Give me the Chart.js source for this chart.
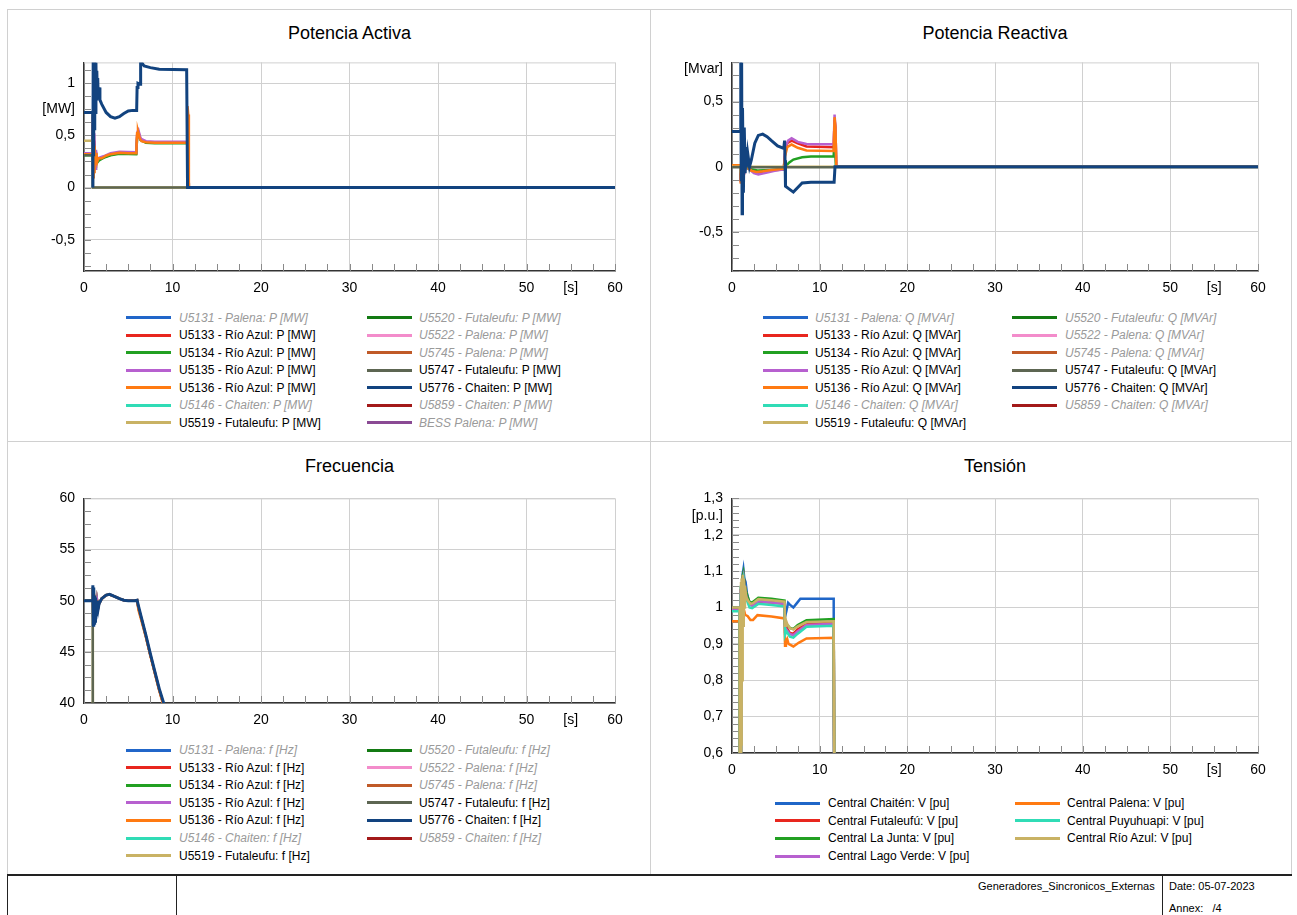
<!DOCTYPE html>
<html><head><meta charset="utf-8">
<script src="https://cdn.jsdelivr.net/npm/chart.js@4/dist/chart.umd.min.js"></script>
<style>
body{margin:0;background:#fff;width:1297px;height:915px;overflow:hidden;position:relative;font-family:Arial,"Liberation Sans",sans-serif;}
.ln{position:absolute;}
.title{position:absolute;font-size:18px;line-height:20px;color:#000;transform:translateX(-50%);white-space:nowrap;}
.lt{position:absolute;font-size:12px;line-height:14px;white-space:nowrap;color:#000;}
.lt.off{color:#9a9a9a;font-style:italic;}
.sw{position:absolute;height:3px;width:45px;}
.ft{position:absolute;font-size:11px;line-height:14px;white-space:nowrap;color:#000;}
canvas{position:absolute;}
</style>
</head><body>
<script>
// ---------- axis tick labels ----------
const xMajor = [0, 10, 20, 30, 40, 50, 60];
const xUnitLabel = '[s]';
const xUnitAt = 55;
const P_yMajor = [-0.5, 0, 0.5, 1];
const Q_yMajor = [-0.5, 0, 0.5];
const F_yMajor = [40, 45, 50, 55, 60];
const V_yMajor = [0.6, 0.7, 0.8, 0.9, 1, 1.1, 1.2, 1.3];

// ---------- Potencia Activa [MW]  ([t, value]) ----------
const P_U5131 = [];
const P_U5133 = [[0,0.32],[0.98,0.32],[1.0,0.6],[1.08,0.15],[1.16,0.45],[1.25,0.2],[1.35,0.34],[1.5,0.25],[1.7,0.27],[2.2,0.29],[3.0,0.315],[4.0,0.33],[5.9,0.325],[6.02,0.52],[6.15,0.53],[6.4,0.46],[7.0,0.435],[8.0,0.43],[11.65,0.43],[11.72,0.72],[11.85,0],[60,0]];
const P_U5134 = [[0,0.31],[0.98,0.31],[1.0,0.55],[1.08,0.12],[1.16,0.42],[1.25,0.18],[1.35,0.32],[1.5,0.24],[1.7,0.26],[2.2,0.285],[3.0,0.31],[4.0,0.325],[5.9,0.32],[6.02,0.5],[6.15,0.52],[6.4,0.455],[7.0,0.43],[8.0,0.425],[11.65,0.425],[11.72,0.7],[11.85,0],[60,0]];
const P_U5135 = [[0,0.33],[0.98,0.33],[1.0,0.68],[1.08,0.12],[1.16,0.52],[1.25,0.18],[1.35,0.36],[1.5,0.26],[1.7,0.285],[2.2,0.3],[3.0,0.33],[4.0,0.343],[5.9,0.338],[6.02,0.53],[6.15,0.55],[6.4,0.47],[7.0,0.445],[8.0,0.44],[11.65,0.44],[11.72,0.76],[11.85,0],[60,0]];
const P_U5136 = [[0,0.32],[0.98,0.32],[1.0,0.7],[1.05,0.1],[1.1,0.55],[1.15,0.15],[1.2,0.4],[1.3,0.22],[1.4,0.33],[1.5,0.25],[1.6,0.28],[2.0,0.28],[2.5,0.305],[3.0,0.32],[4.0,0.333],[5.0,0.33],[5.9,0.33],[6.0,0.52],[6.1,0.54],[6.3,0.47],[6.5,0.445],[7.0,0.435],[8.0,0.43],[11.65,0.43],[11.7,0.78],[11.78,0.7],[11.85,0],[60,0]];
const P_U5146 = [];
const P_U5519 = [[0,0.45],[0.98,0.45],[1.0,0],[60,0]];
const P_U5520 = [];
const P_U5522 = [];
const P_U5745 = [];
const P_U5747 = [[0,0.31],[0.98,0.31],[1.0,0],[60,0]];
const P_U5776 = [[0,0.72],[0.98,0.72],[1.0,0.0],[1.04,1.3],[1.09,0.3],[1.14,1.3],[1.19,0.55],[1.24,1.25],[1.3,0.72],[1.35,1.2],[1.4,0.85],[1.45,1.12],[1.5,0.9],[1.55,1.05],[1.6,0.88],[1.7,0.96],[1.8,0.84],[2.0,0.8],[2.5,0.72],[3.0,0.68],[3.5,0.665],[4.0,0.68],[4.5,0.71],[5.0,0.735],[5.5,0.74],[5.95,0.74],[6.0,0.96],[6.1,1.0],[6.35,0.99],[6.4,1.22],[6.5,1.2],[6.8,1.165],[7.5,1.15],[8.5,1.135],[11.6,1.13],[11.7,0.0],[60,0]];
const P_U5859 = [];
const P_BESS = [];

// ---------- Potencia Reactiva [Mvar] ----------
const Q_U5131 = [];
const Q_U5133 = [[0,0.01],[0.95,0.01],[1.0,-0.12],[1.08,0.08],[1.16,-0.12],[1.25,0.04],[1.35,-0.06],[1.5,0.0],[1.8,-0.01],[2.2,-0.03],[2.8,-0.05],[3.5,-0.045],[4.5,-0.03],[5.9,-0.02],[6.05,0.1],[6.3,0.18],[6.8,0.2],[7.5,0.18],[8.5,0.155],[11.6,0.15],[11.7,0.36],[11.8,0.3],[11.9,0],[60,0]];
const Q_U5134 = [[0,0.005],[0.95,0.005],[1.0,-0.09],[1.1,0.05],[1.2,-0.08],[1.35,0.0],[1.6,-0.01],[2.2,-0.02],[3.0,-0.03],[4.5,-0.025],[5.9,-0.02],[6.1,0.0],[6.5,0.03],[7.0,0.055],[8.0,0.072],[9.0,0.078],[11.6,0.08],[11.7,0.25],[11.85,0],[60,0]];
const Q_U5135 = [[0,0.01],[0.95,0.01],[1.0,-0.1],[1.1,0.1],[1.2,-0.15],[1.3,0.05],[1.4,-0.05],[1.6,0.0],[2.0,-0.02],[2.5,-0.05],[3.0,-0.06],[4.0,-0.045],[5.0,-0.03],[5.9,-0.02],[6.1,0.15],[6.4,0.2],[6.8,0.218],[7.5,0.19],[8.5,0.175],[11.6,0.172],[11.7,0.4],[11.8,0.3],[11.9,0],[60,0]];
const Q_U5136 = [[0,0.012],[0.95,0.012],[1.0,-0.13],[1.08,0.1],[1.16,-0.1],[1.25,0.06],[1.35,-0.05],[1.5,0.02],[1.8,-0.01],[2.2,-0.03],[2.8,-0.04],[3.5,-0.035],[4.5,-0.025],[5.9,-0.015],[6.05,0.08],[6.3,0.15],[6.8,0.17],[7.5,0.145],[8.5,0.125],[11.6,0.12],[11.7,0.38],[11.8,0.3],[11.9,0],[60,0]];
const Q_U5146 = [];
const Q_U5519 = [[0,0],[0.95,0],[1.0,-0.05],[1.05,0],[60,0]];
const Q_U5520 = [];
const Q_U5522 = [];
const Q_U5745 = [];
const Q_U5747 = [[0,-0.005],[60,-0.005]];
const Q_U5776 = [[0,0.27],[0.95,0.27],[1.0,0.9],[1.05,-0.1],[1.1,0.8],[1.15,-0.36],[1.2,0.45],[1.3,-0.2],[1.4,0.3],[1.5,-0.05],[1.6,0.15],[1.7,0.0],[1.8,0.1],[2.0,0.0],[2.2,0.05],[2.6,0.18],[3.0,0.24],[3.5,0.25],[4.0,0.23],[4.5,0.2],[5.2,0.16],[5.9,0.14],[6.0,0.2],[6.05,0.05],[6.1,-0.15],[6.5,-0.17],[7.0,-0.195],[7.5,-0.16],[8.0,-0.125],[9.0,-0.12],[11.65,-0.12],[11.75,0],[60,0]];
const Q_U5859 = [];

// ---------- Frecuencia [Hz] ----------
const F_U5131 = [];
const F_RioAzul = [[0,50],[0.98,50],[1.0,51.3],[1.05,47.8],[1.1,51.1],[1.15,48.0],[1.2,50.4],[1.25,48.2],[1.3,50.2],[1.4,48.6],[1.5,49.9],[1.6,49.3],[1.7,49.7],[2.0,50.2],[2.5,50.55],[2.9,50.6],[3.5,50.4],[4.0,50.2],[4.5,50.05],[5.0,50.0],[5.7,50.0],[6.0,50.05],[6.15,49.3],[6.5,48.2],[7.0,46.5],[7.5,44.7],[8.0,43.0],[8.5,41.3],[9.0,39.8],[9.5,38.3],[10,37]];
const F_U5136 = [[0,50],[0.98,50],[1.0,51.2],[1.05,47.9],[1.1,51.0],[1.15,48.1],[1.2,50.4],[1.3,50.1],[1.4,48.7],[1.5,49.9],[1.7,49.7],[2.0,50.2],[2.5,50.55],[2.9,50.6],[3.5,50.4],[4.0,50.2],[4.5,50.05],[5.0,50.0],[5.7,50.0],[6.0,50.05],[6.15,49.1],[6.5,48.0],[7.0,46.4],[7.5,44.6],[8.0,42.9],[8.5,41.2],[9.0,39.7],[9.5,38.2],[10,36.9]];
const F_U5146 = [];
const F_U5519 = [[0,50],[0.98,50],[1.0,51.2],[1.02,0],[60,0]];
const F_U5520 = [];
const F_U5522 = [];
const F_U5745 = [];
const F_U5747 = [[0,50],[0.99,50],[1.02,0],[60,0]];
const F_U5776 = [[0,50],[0.98,50],[1.0,51.5],[1.05,47.6],[1.1,51.3],[1.15,47.8],[1.2,50.5],[1.25,48.0],[1.3,50.3],[1.4,48.5],[1.5,50.0],[1.6,49.2],[1.7,49.7],[2.0,50.2],[2.5,50.55],[2.9,50.62],[3.5,50.4],[4.0,50.2],[4.5,50.05],[5.0,50.0],[5.7,50.0],[6.0,50.05],[6.15,49.5],[6.5,48.3],[7.0,46.6],[7.5,44.8],[8.0,43.1],[8.5,41.4],[9.0,40.0],[9.5,38.5],[10,37]];
const F_U5859 = [];

// ---------- Tensión [p.u.] ----------
const V_Chaiten = [[0,1.0],[0.88,1.0],[0.9,0.3],[1.0,0.3],[1.02,1.06],[1.1,1.0],[1.2,1.09],[1.3,1.105],[1.4,1.08],[1.55,1.07],[1.7,1.04],[1.9,1.02],[2.2,1.008],[2.6,1.016],[3.0,1.022],[4.5,1.018],[6.0,1.015],[6.05,0.975],[6.2,0.99],[6.4,1.013],[6.6,1.008],[7.0,1.0],[7.4,1.012],[7.8,1.024],[11.6,1.024],[11.65,0.3],[60,0.3]];
const V_Futaleufu = [[0,0.997],[0.88,0.997],[0.9,0.3],[1.0,0.3],[1.02,1.05],[1.1,0.97],[1.2,1.08],[1.3,1.09],[1.45,1.06],[1.7,1.03],[2.0,1.01],[2.3,1.006],[3.0,1.016],[4.5,1.014],[6.0,1.01],[6.05,0.94],[6.2,0.945],[6.6,0.93],[7.0,0.928],[7.5,0.94],[8.5,0.955],[11.6,0.958],[11.7,0.3],[60,0.3]];
const V_LaJunta = [[0,0.999],[0.88,0.999],[0.9,0.3],[1.0,0.3],[1.02,1.06],[1.1,0.98],[1.2,1.085],[1.3,1.095],[1.45,1.06],[1.7,1.035],[2.0,1.015],[2.3,1.014],[3.0,1.027],[4.5,1.024],[6.0,1.019],[6.05,0.955],[6.2,0.955],[6.6,0.944],[7.0,0.941],[7.5,0.952],[8.5,0.965],[11.6,0.968],[11.7,0.3],[60,0.3]];
const V_LagoVerde = [[0,0.994],[0.88,0.994],[0.9,0.3],[1.0,0.3],[1.02,1.05],[1.1,0.97],[1.2,1.075],[1.3,1.085],[1.45,1.05],[1.7,1.025],[2.0,1.008],[2.3,1.005],[3.0,1.017],[4.5,1.014],[6.0,1.01],[6.05,0.935],[6.2,0.94],[6.6,0.927],[7.0,0.924],[7.5,0.935],[8.5,0.952],[11.6,0.955],[11.7,0.3],[60,0.3]];
const V_Palena = [[0,0.962],[0.88,0.962],[0.9,0.3],[1.0,0.3],[1.02,0.9],[1.1,0.96],[1.2,0.99],[1.35,0.995],[1.5,0.98],[1.8,0.976],[2.1,0.966],[2.4,0.966],[2.9,0.979],[4.5,0.975],[6.0,0.97],[6.05,0.895],[6.15,0.905],[6.3,0.913],[6.45,0.9],[7.0,0.893],[7.6,0.903],[8.5,0.915],[11.6,0.917],[11.7,0.3],[60,0.3]];
const V_Puyuhuapi = [[0,0.99],[0.88,0.99],[0.9,0.3],[1.0,0.3],[1.02,1.04],[1.1,0.96],[1.2,1.07],[1.3,1.08],[1.45,1.04],[1.7,1.02],[2.0,1.0],[2.3,0.998],[3.0,1.01],[4.5,1.007],[6.0,1.003],[6.05,0.925],[6.2,0.935],[6.6,0.92],[7.0,0.917],[7.5,0.928],[8.5,0.947],[11.6,0.95],[11.7,0.3],[60,0.3]];
const V_RioAzul = [[0,1.0],[0.88,1.0],[0.9,0.3],[1.0,0.3],[1.03,1.07],[1.07,0.62],[1.12,1.08],[1.17,0.8],[1.22,1.09],[1.28,0.95],[1.34,1.08],[1.4,1.0],[1.48,1.06],[1.6,1.03],[1.8,1.02],[2.1,1.01],[2.4,1.012],[3.0,1.023],[4.5,1.02],[6.0,1.016],[6.05,0.95],[6.15,0.965],[6.3,0.955],[6.6,0.943],[7.0,0.94],[7.5,0.948],[8.5,0.96],[11.6,0.962],[11.72,0.3],[60,0.3]];

// ---------- colours ----------
const C = {
  u5131:'#2166c9', u5133:'#e8261e', u5134:'#22a022', u5135:'#b760cf', u5136:'#ff7a12',
  u5146:'#30dcb6', u5519:'#c9b264', u5520:'#137a13', u5522:'#f38ccb', u5745:'#c05a28',
  u5747:'#5d6652', u5776:'#12437f', u5859:'#a31919', bess:'#8a4a94'
};

function S(label, color, data, hidden, width){ return {label, color, data, hidden: !!hidden, width: width || 2.5}; }

const P_series = [
  S('U5131 - Palena: P [MW]', C.u5131, P_U5131, true),
  S('U5133 - Río Azul: P [MW]', C.u5133, P_U5133),
  S('U5134 - Río Azul: P [MW]', C.u5134, P_U5134),
  S('U5135 - Río Azul: P [MW]', C.u5135, P_U5135),
  S('U5136 - Río Azul: P [MW]', C.u5136, P_U5136),
  S('U5146 - Chaiten: P [MW]', C.u5146, P_U5146, true),
  S('U5519 - Futaleufu: P [MW]', C.u5519, P_U5519),
  S('U5520 - Futaleufu: P [MW]', C.u5520, P_U5520, true),
  S('U5522 - Palena: P [MW]', C.u5522, P_U5522, true),
  S('U5745 - Palena: P [MW]', C.u5745, P_U5745, true),
  S('U5747 - Futaleufu: P [MW]', C.u5747, P_U5747),
  S('U5776 - Chaiten: P [MW]', C.u5776, P_U5776, false, 3),
  S('U5859 - Chaiten: P [MW]', C.u5859, P_U5859, true),
  S('BESS Palena: P [MW]', C.bess, P_BESS, true)
];
const Q_series = [
  S('U5131 - Palena: Q [MVAr]', C.u5131, Q_U5131, true),
  S('U5133 - Río Azul: Q [MVAr]', C.u5133, Q_U5133),
  S('U5134 - Río Azul: Q [MVAr]', C.u5134, Q_U5134),
  S('U5135 - Río Azul: Q [MVAr]', C.u5135, Q_U5135),
  S('U5136 - Río Azul: Q [MVAr]', C.u5136, Q_U5136),
  S('U5146 - Chaiten: Q [MVAr]', C.u5146, Q_U5146, true),
  S('U5519 - Futaleufu: Q [MVAr]', C.u5519, Q_U5519),
  S('U5520 - Futaleufu: Q [MVAr]', C.u5520, Q_U5520, true),
  S('U5522 - Palena: Q [MVAr]', C.u5522, Q_U5522, true),
  S('U5745 - Palena: Q [MVAr]', C.u5745, Q_U5745, true),
  S('U5747 - Futaleufu: Q [MVAr]', C.u5747, Q_U5747),
  S('U5776 - Chaiten: Q [MVAr]', C.u5776, Q_U5776, false, 3),
  S('U5859 - Chaiten: Q [MVAr]', C.u5859, Q_U5859, true)
];
const F_series = [
  S('U5131 - Palena: f [Hz]', C.u5131, F_U5131, true),
  S('U5133 - Río Azul: f [Hz]', C.u5133, F_RioAzul),
  S('U5134 - Río Azul: f [Hz]', C.u5134, F_RioAzul),
  S('U5135 - Río Azul: f [Hz]', C.u5135, F_RioAzul),
  S('U5136 - Río Azul: f [Hz]', C.u5136, F_U5136),
  S('U5146 - Chaiten: f [Hz]', C.u5146, F_U5146, true),
  S('U5519 - Futaleufu: f [Hz]', C.u5519, F_U5519),
  S('U5520 - Futaleufu: f [Hz]', C.u5520, F_U5520, true),
  S('U5522 - Palena: f [Hz]', C.u5522, F_U5522, true),
  S('U5745 - Palena: f [Hz]', C.u5745, F_U5745, true),
  S('U5747 - Futaleufu: f [Hz]', C.u5747, F_U5747),
  S('U5776 - Chaiten: f [Hz]', C.u5776, F_U5776, false, 3),
  S('U5859 - Chaiten: f [Hz]', C.u5859, F_U5859, true)
];
const V_series = [
  S('Central Chaitén: V [pu]', '#1f66c8', V_Chaiten),
  S('Central Futaleufú: V [pu]', '#e8261e', V_Futaleufu),
  S('Central La Junta: V [pu]', '#22a022', V_LaJunta),
  S('Central Lago Verde: V [pu]', '#b760cf', V_LagoVerde),
  S('Central Palena: V [pu]', '#ff7a12', V_Palena),
  S('Central Puyuhuapi: V [pu]', '#30dcb6', V_Puyuhuapi),
  S('Central Río Azul: V [pu]', '#c9b264', V_RioAzul)
];

const panels = [
  {title:'Potencia Activa', tx:349.5, ty:23, area:{l:84,t:57,r:615,b:271}, ymin:-0.8, ymax:1.2, major:P_yMajor, unit:'[MW]', unitAt:0.75, ystep:0.125, series:P_series,
   leg:{s1:126, t1:179, s2:367, t2:419, y0:317.5, dy:17.5, rows:7}},
  {title:'Potencia Reactiva', tx:995, ty:23, area:{l:732,t:57,r:1258,b:271}, ymin:-0.8, ymax:0.8, major:Q_yMajor, unit:'[Mvar]', unitAt:0.75, ystep:0.1, series:Q_series,
   leg:{s1:763, t1:815, s2:1012, t2:1065, y0:317.5, dy:17.5, rows:7}},
  {title:'Frecuencia', tx:349.5, ty:456, area:{l:84,t:493,r:615,b:703}, ymin:40, ymax:60, major:F_yMajor, unit:null, unitAt:null, ystep:1.25, series:F_series,
   leg:{s1:126, t1:179, s2:367, t2:419, y0:750, dy:17.6, rows:7}},
  {title:'Tensión', tx:995, ty:456, area:{l:732,t:493,r:1258,b:753}, ymin:0.6, ymax:1.3, major:V_yMajor, unit:'[p.u.]', unitAt:1.25, ystep:0.02, series:V_series,
   leg:{s1:775, t1:828, s2:1015, t2:1067, y0:803, dy:17.7, rows:4}}
];

// ---------- frame ----------
function box(l,t,w,h,c){ const d=document.createElement('div'); d.className='ln'; d.style.cssText=`left:${l}px;top:${t}px;width:${w}px;height:${h}px;background:${c}`; document.body.appendChild(d); }
box(7,9,1285,1,'#d0d0d0');
box(7,9,1,866,'#d0d0d0');
box(1291,9,1,866,'#d0d0d0');
box(650,9,1,866,'#d0d0d0');
box(7,441,1285,1,'#d0d0d0');
box(7,874,1285,2,'#222');
box(7,875,1,40,'#222');
box(176,875,1,40,'#222');
box(1162,875,1,40,'#222');
function txt(cls, s, l, t, extra){ const d=document.createElement('div'); d.className=cls; d.textContent=s; d.style.left=l+'px'; d.style.top=t+'px'; if(extra) d.style.cssText+=extra; document.body.appendChild(d); return d; }
const f1 = txt('ft','Generadores_Sincronicos_Externas',0,879); f1.style.left=(1155 - f1.offsetWidth)+'px';
txt('ft','Date: 05-07-2023',1169,879);
txt('ft','Annex:   /4',1169,901,'white-space:pre;');

// ---------- charts ----------
Chart.defaults.font.family = 'Arial, "Liberation Sans", sans-serif';
Chart.defaults.font.size = 14;
Chart.defaults.color = '#000';

const minorTicks = {
  id: 'minorTicks',
  beforeDatasetsDraw(chart, args, o) {
    const {ctx, chartArea: a, scales: {x, y}} = chart;
    ctx.save();
    ctx.lineWidth = 1;
    ctx.strokeStyle = '#d0d0d0';
    ctx.beginPath(); ctx.moveTo(a.left, a.top + 0.5); ctx.lineTo(a.right, a.top + 0.5); ctx.stroke();
    ctx.strokeStyle = '#8a8a8a';
    ctx.beginPath();
    const y0 = Math.ceil((y.min - 1e-9) / o.ystep) * o.ystep;
    for (let v = y0; v <= y.max + 1e-9; v += o.ystep) {
      const py = Math.round(y.getPixelForValue(v)) + 0.5;
      ctx.moveTo(a.left, py); ctx.lineTo(a.left + 7, py);
    }
    for (let v = x.min; v <= x.max + 1e-9; v += o.xstep) {
      const px = Math.round(x.getPixelForValue(v)) + 0.5;
      ctx.moveTo(px, a.bottom); ctx.lineTo(px, a.bottom - 7);
    }
    ctx.stroke();
    ctx.restore();
  }
};

function fmt(v){ return String(Number(v.toFixed(4))).replace('.', ','); }

const YW = 64, PT = 12, PR = 24, XH = 30;
panels.forEach((p, pi) => {
  txt('title', p.title, p.tx, p.ty);
  const a = p.area;
  const cv = document.createElement('canvas');
  const W = a.r - a.l + YW + PR, H = a.b - a.t + PT + XH;
  cv.width = W; cv.height = H;
  cv.style.left = (a.l - YW) + 'px'; cv.style.top = (a.t - PT) + 'px';
  cv.style.width = W + 'px'; cv.style.height = H + 'px';
  document.body.appendChild(cv);
  const n = p.series.length;
  const datasets = p.series.map((s, i) => ({
    label: s.label,
    data: s.data.map(([x, y]) => ({x, y})),
    borderColor: s.color, backgroundColor: s.color,
    borderWidth: s.width, pointRadius: 0, tension: 0, fill: false,
    hidden: s.hidden, order: n - i
  }));
  const yTickVals = p.major.concat(p.unitAt !== null ? [p.unitAt] : []).sort((u, v) => u - v);
  const xTickVals = xMajor.concat([xUnitAt]).sort((u, v) => u - v);
  new Chart(cv, {
    type: 'line',
    data: {datasets},
    plugins: [minorTicks],
    options: {
      responsive: false, animation: false, devicePixelRatio: 1, events: [],
      layout: {padding: {top: PT, right: PR, left: 0, bottom: 0}},
      plugins: {legend: {display: false}, tooltip: {enabled: false}, title: {display: false},
        minorTicks: {xstep: 2.5, ystep: p.ystep}},
      scales: {
        x: {
          type: 'linear', min: 0, max: 60,
          afterBuildTicks: sc => { sc.ticks = xTickVals.map(v => ({value: v})); },
          afterFit: sc => { sc.height = XH; },
          ticks: {autoSkip: false, maxRotation: 0, padding: 9,
            callback: v => v === xUnitAt ? xUnitLabel : String(v)},
          grid: {drawTicks: false, color: c => (c.tick && c.tick.value === xUnitAt) ? 'rgba(0,0,0,0)' : '#d0d0d0', lineWidth: 1},
          border: {display: true, color: '#333', width: 1.5}
        },
        y: {
          type: 'linear', min: p.ymin, max: p.ymax,
          afterBuildTicks: sc => { sc.ticks = yTickVals.map(v => ({value: v})); },
          afterFit: sc => { sc.width = YW; },
          ticks: {autoSkip: false, padding: 9,
            callback: v => (p.unitAt !== null && Math.abs(v - p.unitAt) < 1e-9) ? p.unit : fmt(v)},
          grid: {drawTicks: false, color: c => (c.tick && p.major.some(m => Math.abs(m - c.tick.value) < 1e-9)) ? '#d0d0d0' : 'rgba(0,0,0,0)', lineWidth: 1},
          border: {display: true, color: '#333', width: 1.5}
        }
      }
    }
  });
  // legend
  const L = p.leg;
  p.series.forEach((s, i) => {
    const col = Math.floor(i / L.rows), row = i % L.rows;
    const yc = L.y0 + row * L.dy;
    const sx = col === 0 ? L.s1 : L.s2, tx = col === 0 ? L.t1 : L.t2;
    box(sx, Math.round(yc - 1.5), 45, 3, s.color);
    txt('lt' + (s.hidden ? ' off' : ''), s.label, tx, Math.round(yc - 7));
  });
});
</script>
</body></html>
